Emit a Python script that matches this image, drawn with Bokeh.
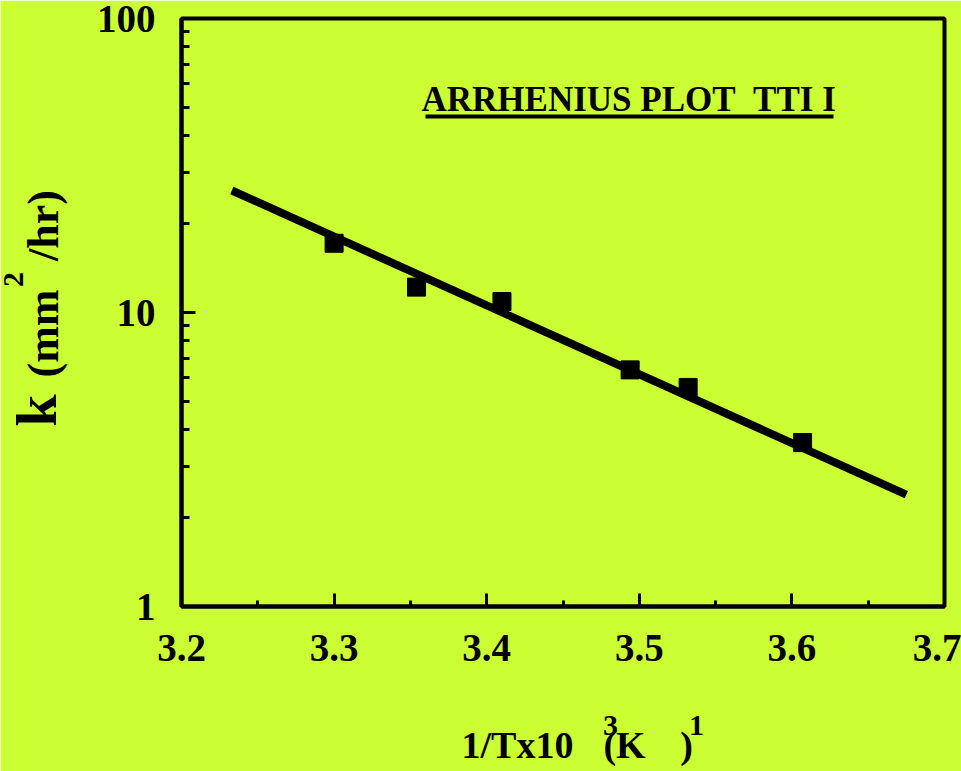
from bokeh.plotting import figure
from bokeh.models import Range1d, FixedTicker, PrintfTickFormatter, Label, LinearAxis
from bokeh.embed import file_html
from bokeh.resources import INLINE

# ---- data ----
temp_inv = [3.300, 3.354, 3.410, 3.494, 3.532, 3.607]   # 1/T x 10^3
rate_k = [17.2, 12.2, 10.9, 6.38, 5.56, 3.61]           # k (mm^2/hr)
fit_x = [3.233, 3.675]
fit_y = [26.0, 2.40]
x_ticks = [3.2, 3.3, 3.4, 3.5, 3.6, 3.7]
x_minor = [3.25, 3.35, 3.45, 3.55, 3.65]
y_ticks = [1, 10, 100]
y_labels = ["1", "10", "100"]
title_text = "ARRHENIUS PLOT\u00a0\u00a0TTI I"

BG = "#ccff33"
FONT = "Liberation Serif"
W, H = 961, 771
FL, FR, FT, FB = 181, 944, 18, 606  # frame edges in pixels

p = figure(width=W, height=H, x_range=Range1d(3.2, 3.7), y_range=Range1d(1, 100),
           y_axis_type="log", output_backend="svg", toolbar_location=None,
           min_border_left=FL, min_border_right=W - FR,
           min_border_top=FT, min_border_bottom=H - FB)
p.title.visible = False
p.background_fill_color = BG
p.border_fill_color = BG
p.outline_line_color = "black"
p.outline_line_width = 4
p.xgrid.visible = False
p.ygrid.visible = False

for ax in (p.xaxis[0], p.yaxis[0]):
    ax.axis_line_width = 4
    ax.axis_line_color = "black"
    ax.major_tick_line_width = 3
    ax.minor_tick_line_width = 3
    ax.major_tick_out = 0
    ax.minor_tick_out = 0
    ax.major_label_text_font = FONT
    ax.major_label_text_font_style = "bold"
    ax.major_label_text_font_size = "39px"
    ax.major_label_text_color = "black"

p.xaxis.ticker = FixedTicker(ticks=x_ticks, minor_ticks=x_minor)
p.xaxis.formatter = PrintfTickFormatter(format="%.1f")
p.xaxis.major_tick_in = 13
p.xaxis.minor_tick_in = 6
p.xaxis.major_label_standoff = 28

p.yaxis.major_tick_in = 14
p.yaxis.minor_tick_in = 8
p.yaxis.major_label_standoff = 26
p.yaxis.major_label_overrides = {t: l for t, l in zip(y_ticks, y_labels)}

p.line(fit_x, fit_y, line_width=8, line_color="black")
p.scatter(temp_inv, rate_k, marker="square", size=18, fill_color="black", line_color="black")


# pixel -> data coordinates
def dx(sx):
    return 3.2 + (sx - FL) / (FR - FL) * 0.5


def dy(sy):
    return 10 ** (2 - (sy - FT) / (FB - FT) * 2)


# title with underline (inside the frame)
p.add_layout(Label(x=dx(421), y=dy(98.5), text=title_text, text_font=FONT, text_font_style="bold",
                   text_font_size="35px", text_color="black", text_align="left",
                   text_baseline="middle"))
p.segment(x0=[dx(425)], y0=[dy(116)], x1=[dx(833)], y1=[dy(116)], line_width=4, line_color="black")


def text_axis(side, pieces, size, standoff, vertical=False):
    """An axis without line/ticks, used only to place text pieces outside the frame."""
    pos = [c for c, _ in pieces]
    ax = LinearAxis(ticker=FixedTicker(ticks=pos, minor_ticks=[]),
                    major_label_overrides={c: t for c, t in pieces})
    ax.axis_line_color = None
    ax.major_tick_line_color = None
    ax.minor_tick_line_color = None
    ax.major_tick_in = 0
    ax.major_tick_out = 0
    ax.minor_tick_in = 0
    ax.minor_tick_out = 0
    ax.major_label_standoff = standoff
    ax.major_label_text_font = FONT
    ax.major_label_text_font_style = "bold"
    ax.major_label_text_font_size = f"{size}px"
    ax.major_label_text_color = "black"
    if vertical:
        ax.major_label_orientation = "vertical"
    p.add_layout(ax, side)
    return ax


# x-axis title: superscripts row, then main row (overlapping via negative standoff)
text_axis("below", [(dx(610), "3"), (dx(696), "1")], 30, 52)
text_axis("below", [(dx(517), "1/Tx10"), (dx(624), "(K"), (dx(686), ")")], 38, -14)

# y-axis title pieces (rotated)
text_axis("left", [(dy(333), "(mm"), (dy(225), "/hr)")], 44, 26, vertical=True)
text_axis("left", [(dy(410), "k")], 58, -53, vertical=True)
text_axis("left", [(dy(279), "2")], 30, -22, vertical=True)

open("out.html", "w").write(file_html(p, INLINE))
